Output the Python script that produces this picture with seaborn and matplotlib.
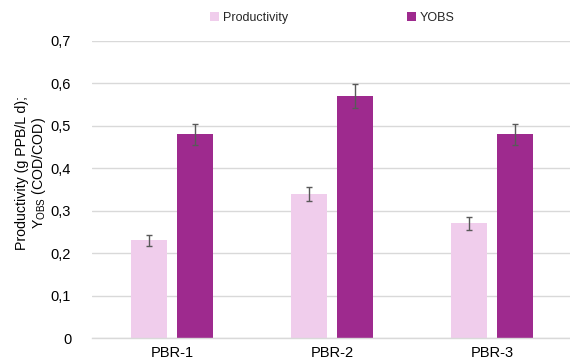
import matplotlib
matplotlib.use("Agg")
import matplotlib.pyplot as plt
import seaborn as sns
import pandas as pd
from matplotlib.patches import Patch

# Reactor data
reactors = ["PBR-1", "PBR-2", "PBR-3"]
productivity = [0.23, 0.34, 0.27]
productivity_err = [0.012, 0.017, 0.015]
yobs = [0.48, 0.57, 0.48]
yobs_err = [0.025, 0.028, 0.025]
series_names = ["Productivity", "YOBS"]
yticks = [0, 0.1, 0.2, 0.3, 0.4, 0.5, 0.6, 0.7]
ytick_labels = ["0", "0,1", "0,2", "0,3", "0,4", "0,5", "0,6", "0,7"]

colors = ["#F0CDEC", "#9E2A8E"]
grid_color = "#D9D9D9"
err_color = "#595959"

df = pd.DataFrame({
    "reactor": reactors * 2,
    "series": [series_names[0]] * 3 + [series_names[1]] * 3,
    "value": productivity + yobs,
})

sns.set_theme(style="white")
plt.rcParams["font.family"] = ["Liberation Sans", "DejaVu Sans"]

fig = plt.figure(figsize=(5.70, 3.62), dpi=100)
ax = fig.add_axes([92 / 570, 1 - 338 / 362, 480 / 570, (338 - 41) / 362])

sns.barplot(data=df, x="reactor", y="value", hue="series", palette=colors,
            saturation=1, width=0.577, gap=0.23, errorbar=None, ax=ax,
            legend=False, linewidth=0)

# error bars on top of each bar
errs = [productivity_err, yobs_err]
vals = [productivity, yobs]
for cont, e, v in zip(ax.containers, errs, vals):
    xs = [b.get_x() + b.get_width() / 2 for b in cont]
    ax.errorbar(xs, v, yerr=e, fmt="none", ecolor=err_color, elinewidth=1.0,
                capsize=2.2, capthick=1.0, zorder=5)

ax.set_xlim(-0.5, len(reactors) - 0.5)
ax.set_ylim(0, 0.7)
ax.set_yticks(yticks)
ax.set_yticklabels(ytick_labels, fontsize=10.5, color="#000000")
ax.tick_params(axis="x", labelsize=10.5, colors="#000000", length=0, pad=6)
ax.tick_params(axis="y", length=0, pad=15)
ax.set_xlabel("")
ax.set_ylabel("Productivity (g PPB/L d);\nY$_{\\mathregular{OBS}}$ (COD/COD)",
              fontsize=10.2, color="#000000", linespacing=1.1)
ax.yaxis.set_label_coords(-0.092, 0.556)
ax.yaxis.grid(True, color=grid_color, linewidth=1.0)
ax.set_axisbelow(True)
for s in ["top", "right", "left"]:
    ax.spines[s].set_visible(False)
ax.spines["bottom"].set_color(grid_color)
ax.spines["bottom"].set_linewidth(1.0)

handles = [Patch(facecolor=c, edgecolor="none") for c in colors]
fig.legend(handles, series_names, loc="center", bbox_to_anchor=(0.583, 0.95),
           ncol=2, frameon=False, fontsize=9, handlelength=0.7,
           handleheight=0.7, handletextpad=0.3, columnspacing=9.5)

fig.savefig("out.png", dpi=100)
